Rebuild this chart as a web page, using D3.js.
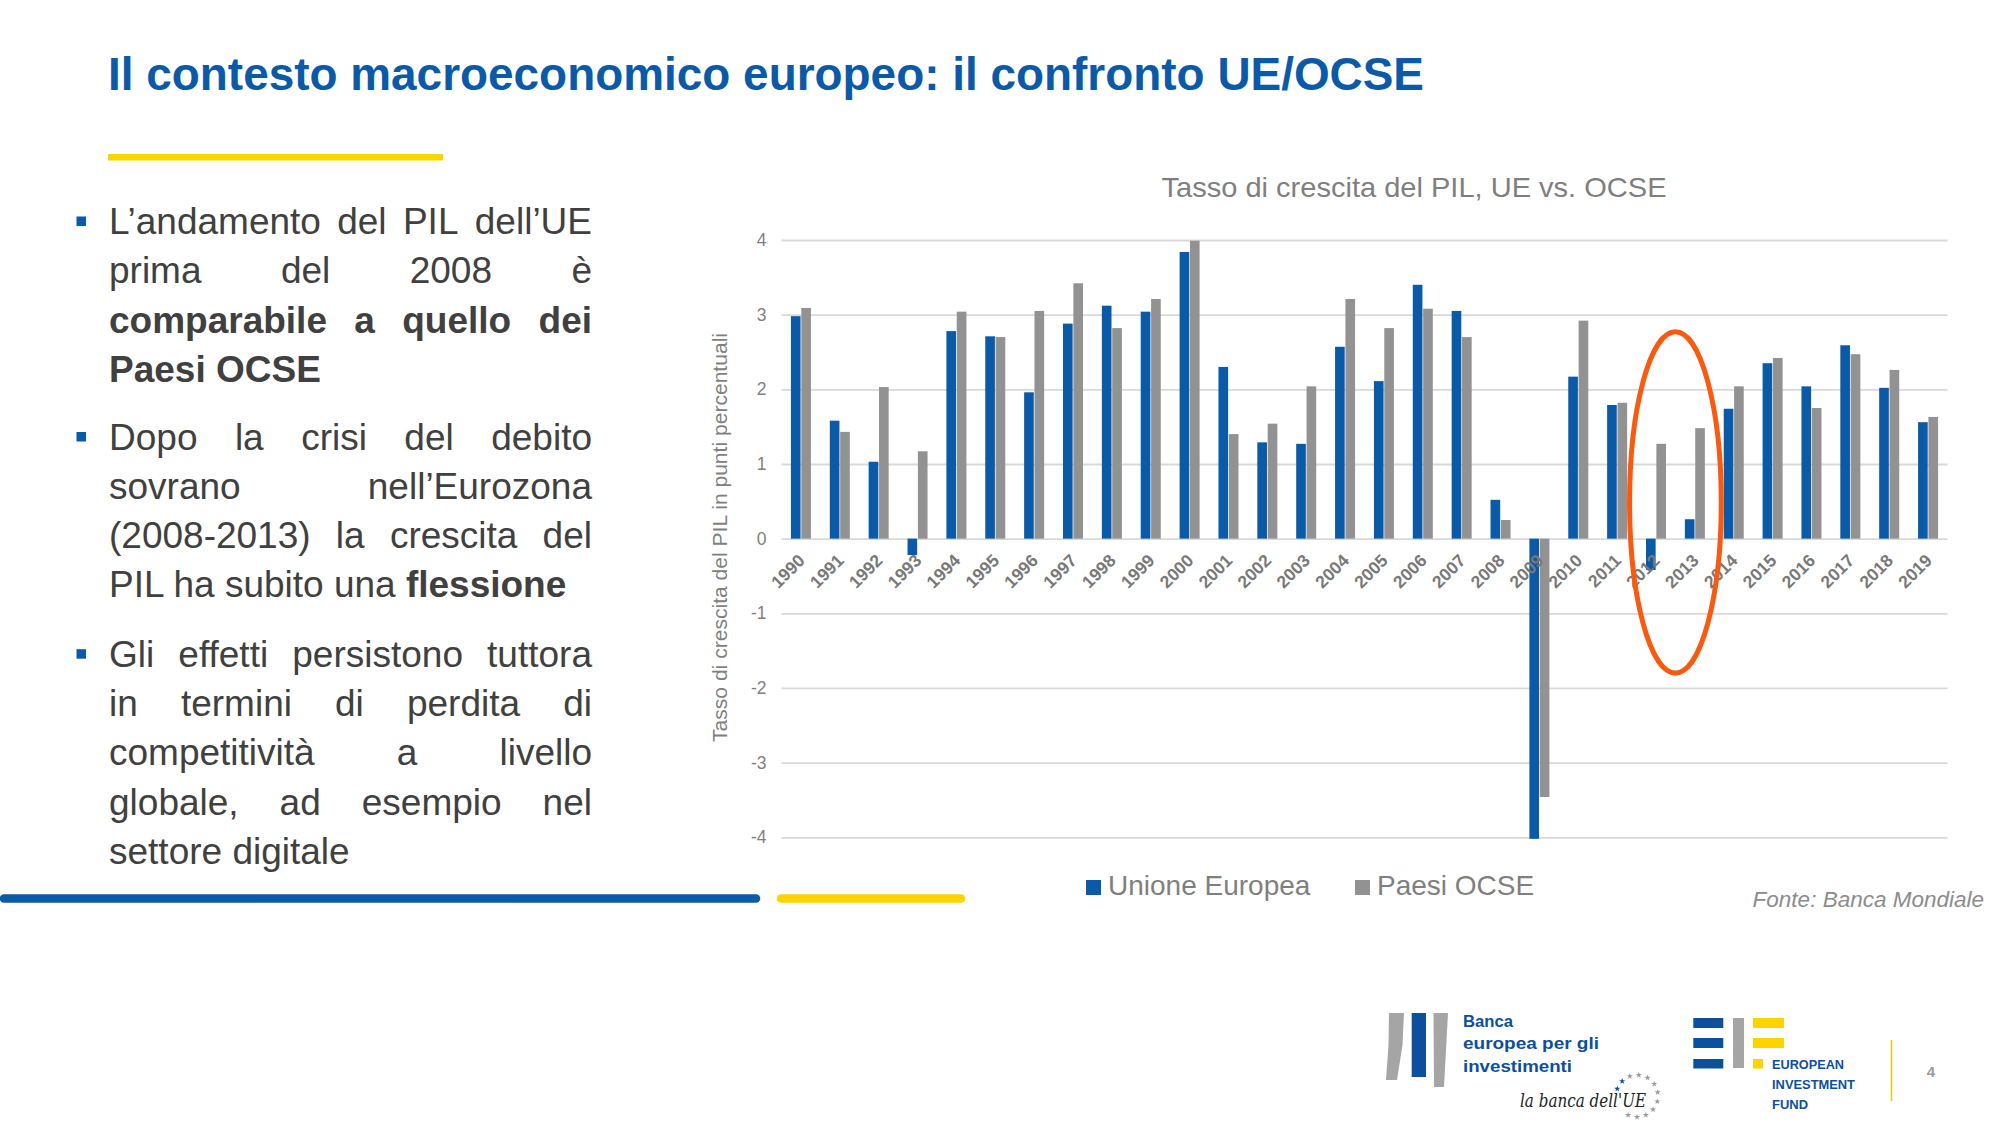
<!DOCTYPE html>
<html><head><meta charset="utf-8">
<script src="https://cdn.jsdelivr.net/npm/d3@7"></script>
<style>
html,body{margin:0;padding:0;background:#fff;}
svg{display:block;font-family:"Liberation Sans",Arial,sans-serif;}
</style>
</head><body>
<svg id="c" width="2000" height="1125"></svg>
<script>
// ---------------- DATA ----------------
const years = ["1990","1991","1992","1993","1994","1995","1996","1997","1998","1999",
               "2000","2001","2002","2003","2004","2005","2006","2007","2008","2009",
               "2010","2011","2012","2013","2014","2015","2016","2017","2018","2019"];
const ueValues = [2.98,1.58,1.03,-0.22,2.78,2.71,1.96,2.88,3.12,3.04,
                  3.84,2.30,1.29,1.27,2.57,2.11,3.40,3.05,0.52,-4.02,
                  2.17,1.79,-0.42,0.26,1.74,2.35,2.04,2.59,2.02,1.56];
const ocseValues = [3.09,1.43,2.03,1.17,3.04,2.70,3.05,3.42,2.82,3.21,
                    3.99,1.40,1.54,2.04,3.21,2.82,3.08,2.70,0.25,-3.46,
                    2.92,1.82,1.27,1.48,2.04,2.42,1.75,2.47,2.26,1.63];
const seriesNames = ["Unione Europea","Paesi OCSE"];
const yTicks = [-4,-3,-2,-1,0,1,2,3,4];
const highlightYears = ["2012","2013"];
const highlightRange = [-1.8, 2.77];

const slideTitle = "Il contesto macroeconomico europeo: il confronto UE/OCSE";
const chartTitle = "Tasso di crescita del PIL, UE vs. OCSE";
const yAxisTitle = "Tasso di crescita del PIL in punti percentuali";
const sourceNote = "Fonte: Banca Mondiale";

const bullets = [
  [ {segs:[{t:"L’andamento del PIL dell’UE"}], j:true},
    {segs:[{t:"prima del 2008 è"}], j:true},
    {segs:[{t:"comparabile a quello dei", b:true}], j:true},
    {segs:[{t:"Paesi OCSE", b:true}], j:false} ],
  [ {segs:[{t:"Dopo la crisi del debito"}], j:true},
    {segs:[{t:"sovrano nell’Eurozona"}], j:true},
    {segs:[{t:"(2008-2013) la crescita del"}], j:true},
    {segs:[{t:"PIL ha subito una "},{t:"flessione", b:true}], j:false} ],
  [ {segs:[{t:"Gli effetti persistono tuttora"}], j:true},
    {segs:[{t:"in termini di perdita di"}], j:true},
    {segs:[{t:"competitività a livello"}], j:true},
    {segs:[{t:"globale, ad esempio nel"}], j:true},
    {segs:[{t:"settore digitale"}], j:false} ]
];

// ---------------- STYLE ----------------
const BLUE = "#0b5aa8", GREY = "#929292", YELLOW = "#ffd300";
const TXT = "#404040", AXT = "#7f7f7f", GRID = "#d9d9d9";

const svg = d3.select("#c");

// ---------------- SLIDE HEADER ----------------
svg.append("text").attr("x",108).attr("y",90)
  .attr("font-size",46).attr("font-weight","bold").attr("fill",BLUE)
  .attr("textLength",1316).attr("lengthAdjust","spacingAndGlyphs")
  .text(slideTitle);
svg.append("rect").attr("x",108).attr("y",154).attr("width",335).attr("height",6.5).attr("fill",YELLOW);

// ---------------- BULLETS ----------------
const bx = 109, bw = 483, lh = 49.3;
const paraStart = [234, 449.5, 666.7];
const bg = svg.append("g").attr("font-size",37).attr("fill",TXT).style("white-space","pre");
bullets.forEach((para, pi) => {
  const y0 = paraStart[pi];
  bg.append("rect").attr("x",76.5).attr("y",y0-17.5).attr("width",9.5).attr("height",9.5).attr("fill",BLUE);
  para.forEach((line, li) => {
    const y = y0 + li*lh;
    if (line.j) {
      const words = [];
      line.segs.forEach(s => s.t.split(" ").filter(w=>w).forEach(w => words.push({w, b:!!s.b})));
      const nodes = words.map(wd => bg.append("text").attr("y",y)
          .attr("font-weight", wd.b ? "bold" : "normal").text(wd.w));
      const widths = nodes.map(n => n.node().getComputedTextLength());
      const gap = (bw - d3.sum(widths)) / (words.length - 1);
      let cx = bx;
      nodes.forEach((n,i) => { n.attr("x",cx); cx += widths[i] + gap; });
    } else {
      const t = bg.append("text").attr("x",bx).attr("y",y);
      line.segs.forEach(s => t.append("tspan").attr("font-weight", s.b ? "bold":"normal").text(s.t));
    }
  });
});

// bottom decorative lines
svg.append("line").attr("x1",4).attr("x2",756).attr("y1",898.5).attr("y2",898.5)
  .attr("stroke",BLUE).attr("stroke-width",8.5).attr("stroke-linecap","round");
svg.append("line").attr("x1",781).attr("x2",961).attr("y1",898.5).attr("y2",898.5)
  .attr("stroke",YELLOW).attr("stroke-width",8.5).attr("stroke-linecap","round");

// ---------------- CHART ----------------
const plot = {left:781.5, right:1947.5, top:240, bottom:837.3};
const y = d3.scaleLinear().domain([-4,4]).range([plot.bottom, plot.top]);
const x0 = d3.scaleBand().domain(years).range([plot.left, plot.right])
  .paddingInner(0.485).paddingOuter(0.2425);
const x1 = d3.scaleBand().domain(seriesNames).range([0, x0.bandwidth()]).paddingInner(0.07);
const color = d3.scaleOrdinal().domain(seriesNames).range([BLUE, GREY]);

const ch = svg.append("g");
// title
ch.append("text").attr("x",1414).attr("y",197).attr("text-anchor","middle")
  .attr("font-size",28).attr("fill",AXT)
  .attr("textLength",505).attr("lengthAdjust","spacingAndGlyphs").text(chartTitle);

// gridlines + y labels via axis
const yAxis = d3.axisLeft(y).tickValues(yTicks).tickFormat(d3.format("d"))
  .tickSize(-(plot.right - plot.left)).tickPadding(15);
const ya = ch.append("g").attr("transform",`translate(${plot.left},0)`).call(yAxis);
ya.select(".domain").remove();
ya.selectAll(".tick line").attr("stroke",GRID).attr("stroke-width",1.8);
ya.selectAll(".tick text").attr("fill",AXT).attr("font-size",17.5)
  .attr("font-family","'Liberation Sans',Arial,sans-serif")
  .text(d => d < 0 ? "-" + Math.abs(d) : d);

// y axis title
ch.append("text").attr("transform",`translate(727,537.5) rotate(-90)`)
  .attr("text-anchor","middle").attr("font-size",21).attr("fill",AXT)
  .attr("textLength",409).attr("lengthAdjust","spacingAndGlyphs").text(yAxisTitle);

// bars
const rows = years.map((yr,i) => ({year:yr, vals:[
  {s:seriesNames[0], v:ueValues[i]}, {s:seriesNames[1], v:ocseValues[i]}]}));
const grp = ch.append("g").selectAll("g").data(rows).join("g")
  .attr("transform", d => `translate(${x0(d.year)},0)`);
grp.selectAll("rect").data(d => d.vals).join("rect")
  .attr("x", d => x1(d.s)).attr("width", x1.bandwidth())
  .attr("y", d => y(Math.max(0,d.v)))
  .attr("height", d => Math.abs(y(d.v) - y(0)))
  .attr("fill", d => color(d.s));

// x labels (at zero line)
const xAxis = d3.axisBottom(x0).tickSize(0).tickPadding(0);
const xa = ch.append("g").attr("transform",`translate(0,${y(0)})`).call(xAxis);
xa.select(".domain").remove();
xa.selectAll(".tick text")
  .attr("font-size",17.5).attr("font-weight","bold").attr("fill","#787878")
  .attr("font-family","'Liberation Sans',Arial,sans-serif")
  .attr("text-anchor","end").attr("dy",null).attr("y",null)
  .attr("transform","translate(5,23) rotate(-45)");

// legend
const lg = ch.append("g");
const legendX = [1086, 1355];
seriesNames.forEach((s,i) => {
  lg.append("rect").attr("x",legendX[i]).attr("y",880).attr("width",15).attr("height",15).attr("fill",color(s));
  lg.append("text").attr("x",legendX[i]+22).attr("y",895).attr("font-size",28).attr("fill",AXT).text(s);
});

// source
ch.append("text").attr("x",1984).attr("y",907).attr("text-anchor","end")
  .attr("font-size",22.5).attr("font-style","italic").attr("fill","#8c8c8c").text(sourceNote);

// highlight ellipse
const cA = x0(highlightYears[0]) + x0.bandwidth()/2;
const cB = x0(highlightYears[1]) + x0.bandwidth()/2;
ch.append("ellipse")
  .attr("cx",(cA+cB)/2).attr("cy",(y(highlightRange[0])+y(highlightRange[1]))/2)
  .attr("rx",x0.step()*1.18).attr("ry",(y(highlightRange[0])-y(highlightRange[1]))/2)
  .attr("fill","none").attr("stroke","#fa5a10").attr("stroke-width",5);

// ---------------- LOGOS ----------------
const lo = svg.append("g");
// EIB
lo.append("path").attr("d","M1389,1013 L1404,1013 L1402.5,1045 L1397,1080 L1386,1080 L1388.5,1045 Z").attr("fill","#a5a5a5");
lo.append("rect").attr("x",1411.7).attr("y",1013).attr("width",14.3).attr("height",64).attr("fill","#0c4f9c");
lo.append("path").attr("d","M1433.5,1013 L1448,1013 L1444,1087 L1434,1087 Z").attr("fill","#a5a5a5");
const eibT = ["Banca","europea per gli","investimenti"];
const eibW = [50,136,109];
eibT.forEach((t,i) => lo.append("text").attr("x",1463).attr("y",1026.7 + i*22.5)
  .attr("font-size",17).attr("font-weight","bold").attr("fill","#0c4f9c")
  .attr("textLength",eibW[i]).attr("lengthAdjust","spacingAndGlyphs").text(t));
lo.append("text").attr("x",1520).attr("y",1107).attr("font-size",19).attr("font-style","italic")
  .attr("font-family","'DejaVu Serif',serif").attr("fill","#222")
  .attr("textLength",126).attr("lengthAdjust","spacingAndGlyphs").text("la banca dell'UE");
const starAngles = [200,225,250,275,300,325,350,15,40,65,90,115];
starAngles.forEach((a,i) => {
  const r = a*Math.PI/180;
  lo.append("path").attr("d", d3.symbol(d3.symbolStar, 12)())
    .attr("transform",`translate(${1637+21*Math.cos(r)},${1096+21*Math.sin(r)})`)
    .attr("fill", i<2 ? "#0c4f9c" : "#9a9a9a");
});
// EIF
[1018,1038].forEach(yy => {
  lo.append("rect").attr("x",1693.3).attr("y",yy).attr("width",30).attr("height",10).attr("fill","#0c4f9c");
  lo.append("rect").attr("x",1753).attr("y",yy).attr("width",31).attr("height",10).attr("fill",YELLOW);
});
lo.append("rect").attr("x",1693.3).attr("y",1059).attr("width",30).attr("height",9.5).attr("fill","#0c4f9c");
lo.append("rect").attr("x",1733).attr("y",1018).attr("width",11).attr("height",50).attr("fill","#a5a5a5");
lo.append("rect").attr("x",1753).attr("y",1059).attr("width",10).attr("height",9.5).attr("fill",YELLOW);
const eifT = ["EUROPEAN","INVESTMENT","FUND"];
const eifW = [72,83,36];
eifT.forEach((t,i) => lo.append("text").attr("x",1772).attr("y",1069 + i*20)
  .attr("font-size",13.5).attr("font-weight","bold").attr("fill","#0c4f9c")
  .attr("textLength",eifW[i]).attr("lengthAdjust","spacingAndGlyphs").text(t));
lo.append("line").attr("x1",1891.5).attr("x2",1891.5).attr("y1",1040).attr("y2",1101)
  .attr("stroke","#f2c500").attr("stroke-width",1.5);
lo.append("text").attr("x",1931).attr("y",1077).attr("text-anchor","middle")
  .attr("font-size",15).attr("font-weight","bold").attr("fill","#9a9a9a").text("4");
</script>
</body></html>
